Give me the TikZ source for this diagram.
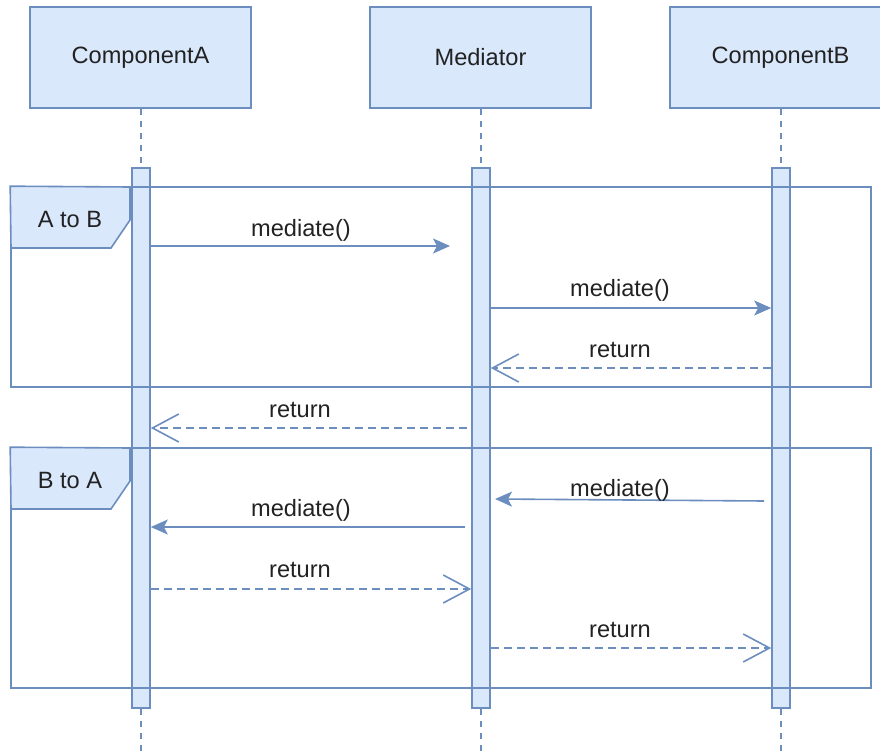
\documentclass[tikz,border=0pt]{standalone}
\usepackage{fontspec}
\setmainfont{Liberation Sans}
\usetikzlibrary{arrows.meta}
\definecolor{fillb}{HTML}{DAE8FC}
\definecolor{strokeb}{HTML}{6C8EBF}
\definecolor{txt}{HTML}{222222}
\pgfdeclarearrow{
  name = OpenVee,
  defaults = {length = 27pt, width = 28pt},
  setup code = {
    \pgfarrowssettipend{0pt}
    \pgfarrowssetlineend{-2.2pt}
    \pgfarrowssetbackend{-\pgfarrowlength}
    \pgfarrowsupperhullpoint{-\pgfarrowlength}{0.5\pgfarrowwidth}
    \pgfarrowsupperhullpoint{0pt}{0pt}
    \pgfarrowssavethe\pgfarrowlength
    \pgfarrowssavethe\pgfarrowwidth
  },
  drawing code = {
    \pgfsetdash{}{0pt}
    \pgfsetmiterjoin
    \pgfpathmoveto{\pgfqpoint{-\pgfarrowlength}{0.5\pgfarrowwidth}}
    \pgfpathlineto{\pgfqpoint{-1.7pt}{0pt}}
    \pgfpathlineto{\pgfqpoint{-\pgfarrowlength}{-0.5\pgfarrowwidth}}
    \pgfusepathqstroke
  },
  parameters = {\the\pgfarrowlength,\the\pgfarrowwidth},
}
\begin{document}
\begin{tikzpicture}[x=1pt,y=-1pt, line width=1.6pt,
  headbox/.style={draw=strokeb, fill=fillb, minimum width=221pt, minimum height=101pt, inner sep=0pt, text=txt, font=\fontsize{23.6}{27}\selectfont},
  actbar/.style={draw=strokeb, fill=fillb, minimum width=18pt, minimum height=540pt, inner sep=0pt},
  lifeline/.style={draw=strokeb, dash pattern=on 6pt off 6pt},
  framebox/.style={draw=strokeb, minimum width=860pt, inner sep=0pt},
  tabshape/.style={draw=strokeb, fill=fillb},
  lbl/.style={font=\fontsize{23.6}{27}\selectfont, text=txt, inner sep=0pt},
  callmsg/.style={draw=strokeb, -{Stealth[length=17pt,width=15pt,inset=4pt]}},
  retmsg/.style={draw=strokeb, dash pattern=on 8pt off 5pt, -{OpenVee[length=28pt,width=28pt]}}
]
\useasboundingbox (0,0) rectangle (880,751);

% heads
\node[headbox] (hA) at (140.5,57.5) {ComponentA};
\node[headbox] (hM) at (480.5,57.5) {Mediator};
\node[headbox] (hB) at (780.5,57.5) {ComponentB};

% lifelines
\coordinate (eA) at (141,751);
\coordinate (eM) at (481,751);
\coordinate (eB) at (781,751);
\draw[lifeline] (hA.south -| eA) -- (eA);
\draw[lifeline] (hM.south -| eM) -- (eM);
\draw[lifeline] (hB.south -| eB) -- (eB);

% activation bars
\node[actbar] (bA) at (141,438) {};
\node[actbar] (bM) at (481,438) {};
\node[actbar] (bB) at (781,438) {};

% frames
\node[framebox, minimum height=200pt] (f1) at (441,287) {};
\node[framebox, minimum height=240pt] (f2) at (441,568) {};
\draw[tabshape] (f1.north west) -- (130,187) -- (130,220) -- (111,248) -- (11,248) -- cycle;
\draw[tabshape] (f2.north west) -- (130,448) -- (130,481) -- (111,509) -- (11,509) -- cycle;
\node[lbl] (t1) at (70,219) {A to B};
\node[lbl] (t2) at (70,480) {B to A};

% message end points
\coordinate (m1a) at (bA.east |- 0,246);  \coordinate (m1b) at (450,246);
\coordinate (m2a) at (bM.east |- 0,308);  \coordinate (m2b) at (bB.west |- 0,308);
\coordinate (m3a) at (bB.west |- 0,368);  \coordinate (m3b) at (bM.east |- 0,368);
\coordinate (m4a) at (467,428);           \coordinate (m4b) at (bA.east |- 0,428);
\coordinate (m5a) at (764,501);           \coordinate (m5b) at (495,499);
\coordinate (m6a) at (465,527);           \coordinate (m6b) at (bA.east |- 0,527);
\coordinate (m7a) at (bA.east |- 0,589);  \coordinate (m7b) at (bM.west |- 0,589);
\coordinate (m8a) at (bM.east |- 0,648);  \coordinate (m8b) at (bB.west |- 0,648);

\draw[callmsg] (m1a) -- (m1b);
\draw[callmsg] (m2a) -- (m2b);
\draw[retmsg] (m3a) -- (m3b);
\draw[retmsg] (m4a) -- (m4b);
\draw[callmsg] (m5a) -- (m5b);
\draw[callmsg] (m6a) -- (m6b);
\draw[retmsg] (m7a) -- (m7b);
\draw[retmsg] (m8a) -- (m8b);

% labels
\node[lbl] (l1) at (301,230) {mediate()};
\node[lbl] (l2) at (620,290) {mediate()};
\node[lbl] (l3) at (620,350) {return};
\node[lbl] (l4) at (300,410) {return};
\node[lbl] (l5) at (620,490) {mediate()};
\node[lbl] (l6) at (301,510) {mediate()};
\node[lbl] (l7) at (300,570) {return};
\node[lbl] (l8) at (620,630) {return};
\end{tikzpicture}
\end{document}
